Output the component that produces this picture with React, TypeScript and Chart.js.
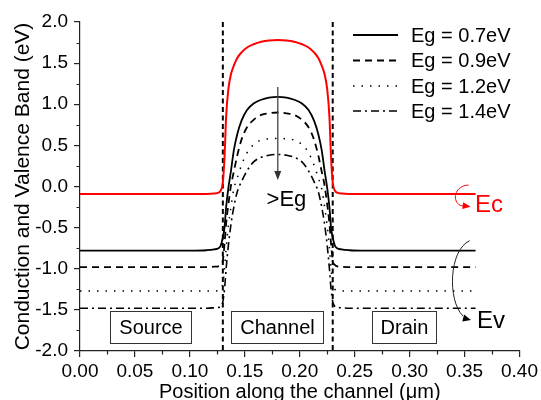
import React, { useEffect, useRef } from 'react';
import { Chart, registerables } from 'chart.js';

Chart.register(...registerables);

const FONT = '"Liberation Sans", Arial, Helvetica, sans-serif';

// Position along the channel (um)
const positionUm = [
  0, 0.02, 0.05, 0.08, 0.10, 0.115, 0.122, 0.126, 0.128, 0.130, 0.1315, 0.133, 0.135, 0.1375,
  0.140, 0.143, 0.147, 0.152, 0.158, 0.165, 0.172, 0.180, 0.188, 0.195, 0.202, 0.208, 0.213,
  0.217, 0.220, 0.2225, 0.225, 0.227, 0.2285, 0.230, 0.232, 0.234, 0.238, 0.245, 0.26, 0.28,
  0.30, 0.33, 0.36,
];

// Conduction band Ec (eV)
const ecBand = [
  -0.09, -0.09, -0.09, -0.09, -0.09, -0.09, -0.085, -0.075, -0.05, 0.05, 0.35, 0.85, 1.18, 1.37,
  1.47, 1.56, 1.63, 1.69, 1.73, 1.76, 1.775, 1.78, 1.775, 1.76, 1.73, 1.69, 1.63,
  1.56, 1.47, 1.37, 1.18, 0.85, 0.35, 0.05, -0.05, -0.075, -0.085, -0.09, -0.09, -0.09,
  -0.09, -0.09, -0.09,
];

// Valence band Ev for each band gap (eV)
const evEg07 = [
  -0.78, -0.78, -0.78, -0.78, -0.78, -0.775, -0.765, -0.75, -0.72, -0.62, -0.50, -0.25, -0.02, 0.20,
  0.44, 0.63, 0.80, 0.93, 1.01, 1.055, 1.08, 1.09, 1.08, 1.055, 1.01, 0.93, 0.80,
  0.63, 0.44, 0.20, -0.02, -0.25, -0.50, -0.62, -0.72, -0.75, -0.765, -0.775, -0.78, -0.78,
  -0.78, -0.78, -0.78,
];
const evEg09 = [
  -0.98, -0.98, -0.98, -0.98, -0.98, -0.98, -0.975, -0.97, -0.955, -0.90, -0.70, -0.45, -0.22, 0.02,
  0.18, 0.37, 0.57, 0.72, 0.81, 0.87, 0.89, 0.90, 0.89, 0.87, 0.81, 0.72, 0.57,
  0.37, 0.18, 0.02, -0.22, -0.45, -0.70, -0.90, -0.955, -0.97, -0.975, -0.98, -0.98, -0.98,
  -0.98, -0.98, -0.98,
];
const evEg12 = [
  -1.27, -1.27, -1.27, -1.27, -1.27, -1.27, -1.27, -1.265, -1.25, -1.18, -1.0, -0.75, -0.48, -0.24,
  -0.03, 0.10, 0.26, 0.41, 0.51, 0.565, 0.58, 0.585, 0.58, 0.565, 0.51, 0.41, 0.26,
  0.10, -0.03, -0.24, -0.48, -0.75, -1.0, -1.18, -1.25, -1.265, -1.27, -1.27, -1.27, -1.27,
  -1.27, -1.27, -1.27,
];
const evEg14 = [
  -1.48, -1.48, -1.48, -1.48, -1.48, -1.48, -1.475, -1.47, -1.46, -1.40, -1.25, -1.0, -0.72, -0.45,
  -0.25, -0.07, 0.06, 0.19, 0.30, 0.355, 0.38, 0.39, 0.38, 0.355, 0.30, 0.19, 0.06,
  -0.07, -0.25, -0.45, -0.72, -1.0, -1.25, -1.40, -1.46, -1.47, -1.475, -1.48, -1.48, -1.48,
  -1.48, -1.48, -1.48,
];

const legendLabels = ['Eg = 0.7eV', 'Eg = 0.9eV', 'Eg = 1.2eV', 'Eg = 1.4eV'];
const gateEdges = [0.13, 0.23];
const regionLabels = ['Source', 'Channel', 'Drain'];
const xMinorTicks = [0.025, 0.075, 0.125, 0.175, 0.225, 0.275, 0.325, 0.375];
const yMinorTicks = [-1.75, -1.25, -0.75, -0.25, 0.25, 0.75, 1.25, 1.75];

// annotation geometry (data units)
const regionBoxes = [
  [0.027, 0.101],
  [0.137, 0.221],
  [0.266, 0.324],
];
const regionBoxY = [-1.51, -1.9];

const lineStyles = [
  { dash: [] as number[], width: 1.8 },
  { dash: [7, 5], width: 1.8 },
  { dash: [1.5, 7], width: 1.5 },
  { dash: [8, 4, 2, 4], width: 1.6 },
];

const pts = (ys: number[]) => positionUm.map((x, i) => ({ x, y: ys[i] }));

const annotationPlugin = {
  id: 'bandAnnotations',
  afterDraw(chart: any) {
    const { ctx, chartArea } = chart;
    const xs = chart.scales.x;
    const ys = chart.scales.y;
    const px = (v: number) => xs.getPixelForValue(v);
    const py = (v: number) => ys.getPixelForValue(v);
    ctx.save();

    // minor ticks
    ctx.strokeStyle = '#222';
    ctx.lineWidth = 1.2;
    ctx.setLineDash([]);
    ctx.beginPath();
    xMinorTicks.forEach((v) => {
      const x = Math.round(px(v)) + 0.5;
      ctx.moveTo(x, chartArea.bottom);
      ctx.lineTo(x, chartArea.bottom + 3.5);
    });
    yMinorTicks.forEach((v) => {
      const y = Math.round(py(v)) + 0.5;
      ctx.moveTo(chartArea.left, y);
      ctx.lineTo(chartArea.left - 3.5, y);
    });
    ctx.stroke();

    // region boxes
    ctx.font = `20px ${FONT}`;
    ctx.textAlign = 'center';
    ctx.textBaseline = 'middle';
    regionBoxes.forEach(([a, b], i) => {
      const x1 = Math.round(px(a)) + 0.5;
      const x2 = Math.round(px(b)) + 0.5;
      const y1 = Math.round(py(regionBoxY[0])) + 0.5;
      const y2 = Math.round(py(regionBoxY[1])) + 0.5;
      ctx.fillStyle = '#fff';
      ctx.fillRect(x1, y1, x2 - x1, y2 - y1);
      ctx.strokeStyle = '#333';
      ctx.lineWidth = 1;
      ctx.strokeRect(x1, y1, x2 - x1, y2 - y1);
      ctx.fillStyle = '#000';
      ctx.fillText(regionLabels[i], (x1 + x2) / 2, (y1 + y2) / 2 + 1);
    });

    const arrowHead = (tx: number, ty: number, ang: number, len: number, half: number, color: string) => {
      ctx.fillStyle = color;
      ctx.beginPath();
      ctx.moveTo(tx, ty);
      ctx.lineTo(tx - len * Math.cos(ang) + half * Math.sin(ang), ty - len * Math.sin(ang) - half * Math.cos(ang));
      ctx.lineTo(tx - len * Math.cos(ang) - half * Math.sin(ang), ty - len * Math.sin(ang) + half * Math.cos(ang));
      ctx.closePath();
      ctx.fill();
    };

    // >Eg arrow
    ctx.strokeStyle = '#444';
    ctx.lineWidth = 1.3;
    ctx.beginPath();
    ctx.moveTo(px(0.18), py(1.21));
    ctx.lineTo(px(0.18), py(0.08) - 6);
    ctx.stroke();
    arrowHead(px(0.18), py(0.08), Math.PI / 2, 9, 3.5, '#333');

    // Ec arc
    ctx.strokeStyle = '#ff0000';
    ctx.lineWidth = 1;
    ctx.beginPath();
    ctx.moveTo(px(0.3537), py(0.018));
    ctx.bezierCurveTo(px(0.3386), py(0.006), px(0.3386), py(-0.225), px(0.3485), py(-0.237));
    ctx.stroke();
    arrowHead(px(0.3555), py(-0.247), 0.15, 8, 3.5, '#ff0000');

    // Ev arc
    ctx.strokeStyle = '#222';
    ctx.beginPath();
    ctx.moveTo(px(0.3546), py(-0.659));
    ctx.bezierCurveTo(px(0.3359), py(-0.772), px(0.3341), py(-1.38), px(0.3485), py(-1.574));
    ctx.stroke();
    arrowHead(px(0.3558), py(-1.623), 0.25, 8, 3.5, '#000');

    // texts
    ctx.textAlign = 'left';
    ctx.textBaseline = 'alphabetic';
    ctx.fillStyle = '#000';
    ctx.font = `22px ${FONT}`;
    ctx.fillText('>Eg', px(0.1698), py(-0.237));
    ctx.fillStyle = '#ff0000';
    ctx.font = `24px ${FONT}`;
    ctx.fillText('Ec', px(0.3594), py(-0.31));
    ctx.fillStyle = '#000';
    ctx.fillText('Ev', px(0.3612), py(-1.72));

    // legend
    const rowY = [35, 60.5, 86, 111];
    ctx.font = `20px ${FONT}`;
    ctx.textBaseline = 'middle';
    legendLabels.forEach((lab, i) => {
      const st = lineStyles[i];
      ctx.strokeStyle = '#000';
      ctx.lineWidth = st.width;
      ctx.setLineDash(st.dash);
      ctx.beginPath();
      ctx.moveTo(353, rowY[i]);
      ctx.lineTo(398, rowY[i]);
      ctx.stroke();
      ctx.setLineDash([]);
      ctx.fillStyle = '#000';
      ctx.fillText(lab, 411, rowY[i] + 1);
    });
    ctx.restore();
  },
};

export default function App() {
  const ref = useRef<HTMLCanvasElement | null>(null);
  useEffect(() => {
    if (!ref.current) return;
    const evSeries = [evEg07, evEg09, evEg12, evEg14];
    const datasets: any[] = [];
    gateEdges.forEach((g) => {
      datasets.push({
        label: 'edge',
        data: [{ x: g, y: 2 }, { x: g, y: -2 }],
        borderColor: '#000',
        borderWidth: 2,
        borderDash: [5, 3.5],
        pointRadius: 0,
      });
    });
    evSeries.forEach((s, i) => {
      datasets.push({
        label: legendLabels[i],
        data: pts(s),
        borderColor: '#000',
        borderWidth: lineStyles[i].width,
        borderDash: lineStyles[i].dash,
        pointRadius: 0,
        cubicInterpolationMode: 'monotone',
      });
    });
    datasets.unshift({
      label: 'Ec',
      data: pts(ecBand),
      borderColor: '#ff0000',
      borderWidth: 2,
      pointRadius: 0,
      cubicInterpolationMode: 'monotone',
    });

    const chart = new Chart(ref.current, {
      type: 'line',
      data: { datasets },
      options: {
        animation: false,
        responsive: false,
        devicePixelRatio: 1,
        layout: { padding: { top: 22, right: 18, left: 0, bottom: 0 } },
        plugins: { legend: { display: false }, tooltip: { enabled: false } },
        scales: {
          x: {
            type: 'linear',
            min: 0,
            max: 0.4,
            ticks: {
              stepSize: 0.05,
              callback: (v: any) => Number(v).toFixed(2),
              font: { family: FONT, size: 19 },
              color: '#000',
              padding: 3,
              maxRotation: 0,
              autoSkip: false,
            },
            grid: { display: true, drawOnChartArea: false, drawTicks: true, tickLength: 6, color: '#222', lineWidth: 1.2 },
            border: { display: true, color: '#222', width: 1.2 },
            title: {
              display: true,
              text: 'Position along the channel (\u03bcm)',
              font: { family: FONT, size: 20, lineHeight: 0.8 },
              color: '#000',
              padding: { top: 0, bottom: 0 },
            },
            afterFit: (s: any) => {
              s.height = 49;
            },
          },
          y: {
            type: 'linear',
            min: -2,
            max: 2,
            ticks: {
              stepSize: 0.5,
              callback: (v: any) => Number(v).toFixed(1),
              font: { family: FONT, size: 19 },
              color: '#000',
              padding: 6,
            },
            grid: { display: true, drawOnChartArea: false, drawTicks: true, tickLength: 6, color: '#222', lineWidth: 1.2 },
            border: { display: true, color: '#222', width: 1.2 },
            title: {
              display: true,
              text: 'Conduction and Valence Band (eV)',
              font: { family: FONT, size: 21, lineHeight: 1.2 },
              color: '#000',
              padding: { top: 11, bottom: 0 },
            },
            afterFit: (s: any) => {
              s.width = 80;
            },
          },
        },
      } as any,
      plugins: [annotationPlugin],
    });
    return () => chart.destroy();
  }, []);

  return (
    <>
      <style>{`body{margin:0;}`}</style>
      <div style={{ width: 541, height: 400 }}>
        <canvas ref={ref} width={541} height={400} style={{ display: 'block' }} />
      </div>
    </>
  );
}
